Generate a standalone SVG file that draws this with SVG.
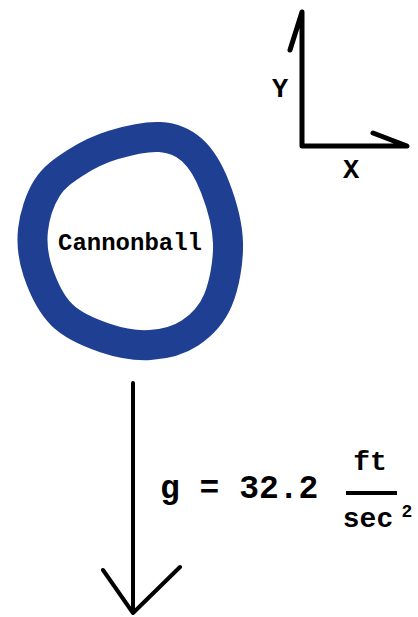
<svg xmlns="http://www.w3.org/2000/svg" width="418" height="617" viewBox="0 0 418 617">
<style>
.ink{fill:none;stroke:#000;stroke-linecap:round;stroke-linejoin:round}
.t{font-family:"Liberation Mono","DejaVu Sans Mono",monospace;font-weight:bold;fill:#000}
</style>
<rect width="418" height="617" fill="#fff"/>
<g id="axes">
<path class="ink" stroke-width="5" d="M290,50 L302,12 L302,146 L407,146 L373,133"/>
<text class="t" x="280" y="97" font-size="27" text-anchor="middle">Y</text>
<text class="t" x="351" y="178" font-size="27" text-anchor="middle">X</text>
</g>
<g id="cannonball">
<path fill="none" stroke="#1f3f93" stroke-width="30" stroke-linejoin="round" d="M75,163 C86,155.8 98.8,149.3 113,145 C127.2,140.7 146.8,136.2 160,137 C173.2,137.8 182.8,141.7 192,150 C201.2,158.3 209,171.5 215,187 C221,202.5 227.5,224.2 228,243 C228.5,261.8 224.3,285 218,300 C211.7,315 201.3,325.5 190,333 C178.7,340.5 164.2,344.2 150,345 C135.8,345.8 119.7,343 105,338 C90.3,333 73.2,326 62,315 C50.8,304 42.8,286.2 38,272 C33.2,257.8 31.5,244 33,230 C34.5,216 40,199.2 47,188 C54,176.8 64,170.2 75,163 Z"/>
<text class="t" x="130" y="250" font-size="24" text-anchor="middle">Cannonball</text>
</g>
<g id="connectors">
<path class="ink" stroke-width="4" d="M133,383 L133,613 M103,570 L133,613 L180,567"/>
</g>
<g id="gravity-label">
<text class="t" x="160" y="498" font-size="33">g = 32.2</text>
<text class="t" x="370" y="470" font-size="28" text-anchor="middle">ft</text>
<line x1="346" y1="493" x2="397" y2="493" stroke="#000" stroke-width="4"/>
<text class="t" x="368" y="527" font-size="28" text-anchor="middle">sec</text>
<text class="t" x="407" y="517" font-size="18" text-anchor="middle">2</text>
</g>
</svg>
